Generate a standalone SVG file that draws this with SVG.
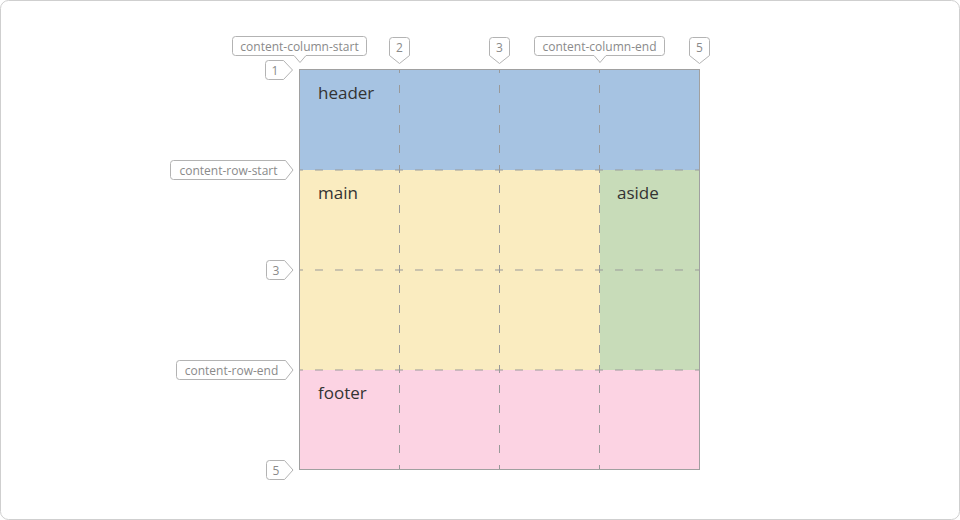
<svg xmlns="http://www.w3.org/2000/svg" width="960" height="520" viewBox="0 0 960 520">
  <style>
    .frame { fill: #ffffff; stroke: #cfcfcf; stroke-width: 1; }
    .area-label { font-family: "Open Sans", "Noto Sans", sans-serif; font-size: 17px; fill: #333333; }
    .tag { fill: #ffffff; stroke: #b3b3b3; stroke-width: 1; stroke-linejoin: round; }
    .tag-text { font-family: "Open Sans", "Noto Sans", sans-serif; font-size: 12px; fill: #8a8a8a; text-anchor: middle; }
    .grid-line { stroke: #999999; stroke-width: 1; stroke-dasharray: 8 12; stroke-dashoffset: 5; fill: none; }
    .border { fill: none; stroke: #a0a0a0; stroke-width: 1; }
  </style>

  <rect class="frame" x="0.5" y="0.5" width="959" height="519" rx="8"/>

  <g id="header">
    <rect x="300" y="70" width="400" height="100" fill="#a6c3e2"/>
    <text class="area-label" x="318" y="99">header</text>
  </g>
  <g id="main">
    <rect x="300" y="170" width="300" height="200" fill="#faecc0"/>
    <text class="area-label" x="318" y="199">main</text>
  </g>
  <g id="aside">
    <rect x="600" y="170" width="100" height="200" fill="#c8dcb9"/>
    <text class="area-label" x="617" y="199">aside</text>
  </g>
  <g id="footer">
    <rect x="300" y="370" width="400" height="100" fill="#fcd3e3"/>
    <text class="area-label" x="318" y="399">footer</text>
  </g>

  <g id="connectors">
    <line class="grid-line" x1="399.5" y1="70" x2="399.5" y2="470"/>
    <line class="grid-line" x1="499.5" y1="70" x2="499.5" y2="470"/>
    <line class="grid-line" x1="599.5" y1="70" x2="599.5" y2="470"/>
    <line class="grid-line" x1="300" y1="170" x2="700" y2="170"/>
    <line class="grid-line" x1="300" y1="270" x2="700" y2="270"/>
    <line class="grid-line" x1="300" y1="370" x2="700" y2="370"/>
    <rect class="border" x="299.5" y="69.5" width="400" height="400"/>
  </g>

  <!-- column tags -->
  <g id="col-content-column-start">
    <path class="tag" d="M235.5,36.5 H363.5 Q366.5,36.5 366.5,39.5 V52.5 Q366.5,55.5 363.5,55.5 H306 L300,62.5 L294,55.5 H235.5 Q232.5,55.5 232.5,52.5 V39.5 Q232.5,36.5 235.5,36.5 Z"/>
    <text class="tag-text" x="299.5" y="50.5">content-column-start</text>
  </g>
  <g id="col-2">
    <path class="tag" d="M392.5,37.5 H406.5 Q409.5,37.5 409.5,40.5 V55.5 L399.5,63.5 L389.5,55.5 V40.5 Q389.5,37.5 392.5,37.5 Z"/>
    <text class="tag-text" x="399.5" y="51.5">2</text>
  </g>
  <g id="col-3">
    <path class="tag" d="M492.5,37.5 H506.5 Q509.5,37.5 509.5,40.5 V55.5 L499.5,63.5 L489.5,55.5 V40.5 Q489.5,37.5 492.5,37.5 Z"/>
    <text class="tag-text" x="499.5" y="51.5">3</text>
  </g>
  <g id="col-content-column-end">
    <path class="tag" d="M537.5,36.5 H661.5 Q664.5,36.5 664.5,39.5 V52.5 Q664.5,55.5 661.5,55.5 H606 L600,62.5 L594,55.5 H537.5 Q534.5,55.5 534.5,52.5 V39.5 Q534.5,36.5 537.5,36.5 Z"/>
    <text class="tag-text" x="599.5" y="50.5">content-column-end</text>
  </g>
  <g id="col-5">
    <path class="tag" d="M692.5,37.5 H706.5 Q709.5,37.5 709.5,40.5 V55.5 L699.5,63.5 L689.5,55.5 V40.5 Q689.5,37.5 692.5,37.5 Z"/>
    <text class="tag-text" x="699.5" y="51.5">5</text>
  </g>

  <!-- row tags -->
  <g id="row-1">
    <path class="tag" d="M268.5,60.5 H283.5 L292.5,70 L283.5,79.5 H268.5 Q265.5,79.5 265.5,76.5 V63.5 Q265.5,60.5 268.5,60.5 Z"/>
    <text class="tag-text" x="275" y="74.5">1</text>
  </g>
  <g id="row-content-row-start">
    <path class="tag" d="M173.5,160.5 H285.5 L293,170 L285.5,179.5 H173.5 Q170.5,179.5 170.5,176.5 V163.5 Q170.5,160.5 173.5,160.5 Z"/>
    <text class="tag-text" x="228.5" y="174.5">content-row-start</text>
  </g>
  <g id="row-3">
    <path class="tag" d="M269.5,260.5 H284.5 L293,270 L284.5,279.5 H269.5 Q266.5,279.5 266.5,276.5 V263.5 Q266.5,260.5 269.5,260.5 Z"/>
    <text class="tag-text" x="276" y="274.5">3</text>
  </g>
  <g id="row-content-row-end">
    <path class="tag" d="M179.5,360.5 H285.5 L293,370 L285.5,379.5 H179.5 Q176.5,379.5 176.5,376.5 V363.5 Q176.5,360.5 179.5,360.5 Z"/>
    <text class="tag-text" x="231.5" y="374.5">content-row-end</text>
  </g>
  <g id="row-5">
    <path class="tag" d="M269.5,460.5 H284.5 L293,470 L284.5,479.5 H269.5 Q266.5,479.5 266.5,476.5 V463.5 Q266.5,460.5 269.5,460.5 Z"/>
    <text class="tag-text" x="276" y="474.5">5</text>
  </g>
</svg>
